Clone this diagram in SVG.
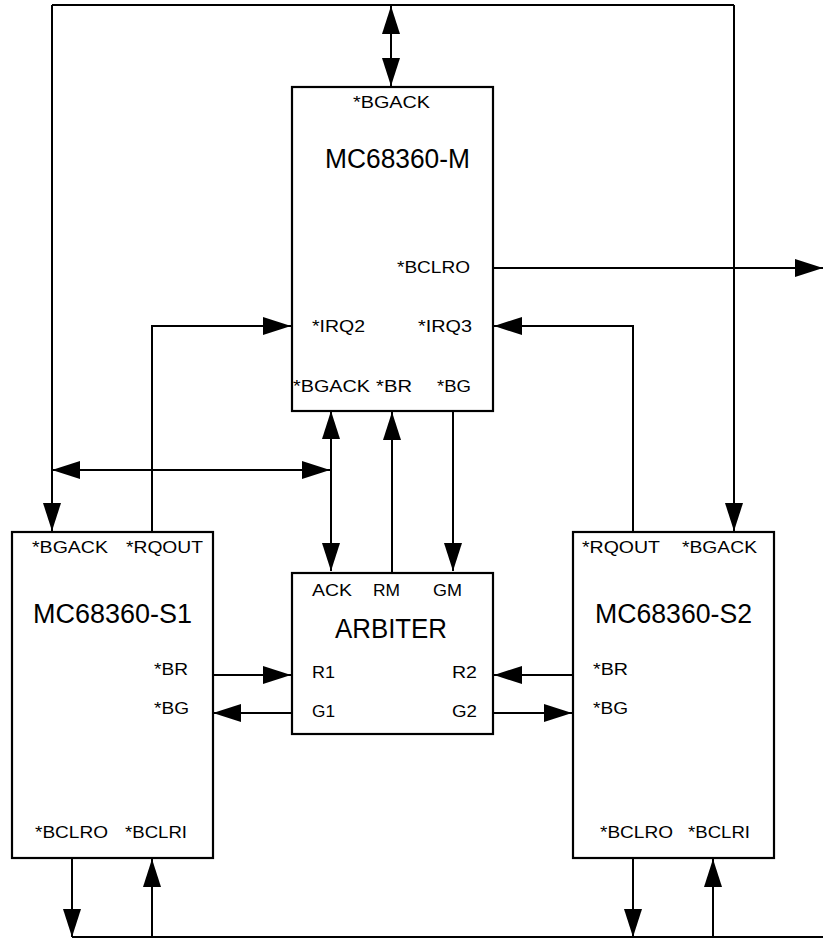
<svg xmlns="http://www.w3.org/2000/svg" width="823" height="939" viewBox="0 0 823 939">
<style>
.box{fill:#fff;stroke:#000;stroke-width:2.2}
.ln{fill:none;stroke:#000;stroke-width:2}
.a{marker-end:url(#arr)}
.d{marker-start:url(#arr);marker-end:url(#arr)}
text{font-family:"Liberation Sans",Arial,sans-serif;fill:#000}
.lb{font-size:17px}
.tt{font-size:27px}
</style>
<defs>
<marker id="arr" markerUnits="userSpaceOnUse" markerWidth="28" markerHeight="18" refX="28" refY="9" orient="auto-start-reverse" viewBox="0 0 28 18">
<path d="M0,0 L28,9 L0,18 Z" fill="#000"/>
</marker>
</defs>
<rect width="823" height="939" fill="#fff"/>
<g id="connectors">
<polyline class="ln" points="52,5 734,5"/>
<line class="ln a" x1="52" y1="5" x2="52" y2="531"/>
<line class="ln a" x1="734" y1="5" x2="734" y2="531"/>
<line class="ln d" x1="391" y1="6" x2="391" y2="86"/>
<line class="ln a" x1="493" y1="268" x2="823" y2="268"/>
<polyline class="ln a" points="152,532 152,326 291,326"/>
<polyline class="ln a" points="633,532 633,326 494,326"/>
<line class="ln d" x1="52" y1="470" x2="330" y2="470"/>
<line class="ln d" x1="331" y1="411" x2="331" y2="571"/>
<line class="ln a" x1="392" y1="573" x2="392" y2="412"/>
<line class="ln a" x1="453" y1="411" x2="453" y2="571"/>
<line class="ln a" x1="212" y1="675" x2="291" y2="675"/>
<line class="ln a" x1="292" y1="713" x2="213" y2="713"/>
<line class="ln a" x1="573" y1="675" x2="494" y2="675"/>
<line class="ln a" x1="493" y1="713" x2="572" y2="713"/>
<line class="ln a" x1="72" y1="858" x2="72" y2="937"/>
<line class="ln a" x1="152" y1="937" x2="152" y2="859"/>
<line class="ln a" x1="633" y1="858" x2="633" y2="937"/>
<line class="ln a" x1="713" y1="937" x2="713" y2="859"/>
<line class="ln" x1="72" y1="937" x2="823" y2="937"/>
</g>
<g id="master">
<rect class="box" x="292" y="87" width="201" height="324"/>
<text class="lb" x="353" y="108" textLength="77" lengthAdjust="spacingAndGlyphs">*BGACK</text>
<text class="tt" x="325" y="168" textLength="145" lengthAdjust="spacingAndGlyphs">MC68360-M</text>
<text class="lb" x="397" y="273" textLength="73" lengthAdjust="spacingAndGlyphs">*BCLRO</text>
<text class="lb" x="312" y="332" textLength="53" lengthAdjust="spacingAndGlyphs">*IRQ2</text>
<text class="lb" x="418" y="332" textLength="54" lengthAdjust="spacingAndGlyphs">*IRQ3</text>
<text class="lb" x="293" y="392" textLength="77" lengthAdjust="spacingAndGlyphs">*BGACK</text>
<text class="lb" x="376" y="392" textLength="36" lengthAdjust="spacingAndGlyphs">*BR</text>
<text class="lb" x="437" y="392" textLength="34" lengthAdjust="spacingAndGlyphs">*BG</text>
</g>
<g id="slave1">
<rect class="box" x="12" y="532" width="201" height="326"/>
<text class="lb" x="32" y="553" textLength="76" lengthAdjust="spacingAndGlyphs">*BGACK</text>
<text class="lb" x="126" y="553" textLength="77" lengthAdjust="spacingAndGlyphs">*RQOUT</text>
<text class="tt" x="33" y="623" textLength="159" lengthAdjust="spacingAndGlyphs">MC68360-S1</text>
<text class="lb" x="154" y="675" textLength="34" lengthAdjust="spacingAndGlyphs">*BR</text>
<text class="lb" x="154" y="714" textLength="35" lengthAdjust="spacingAndGlyphs">*BG</text>
<text class="lb" x="35" y="838" textLength="73" lengthAdjust="spacingAndGlyphs">*BCLRO</text>
<text class="lb" x="125" y="838" textLength="62" lengthAdjust="spacingAndGlyphs">*BCLRI</text>
</g>
<g id="arbiter">
<rect class="box" x="292" y="573" width="201" height="161"/>
<text class="lb" x="312" y="596" textLength="40" lengthAdjust="spacingAndGlyphs">ACK</text>
<text class="lb" x="373" y="596" textLength="27" lengthAdjust="spacingAndGlyphs">RM</text>
<text class="lb" x="433" y="596" textLength="29" lengthAdjust="spacingAndGlyphs">GM</text>
<text class="tt" x="335" y="638" textLength="112" lengthAdjust="spacingAndGlyphs">ARBITER</text>
<text class="lb" x="312" y="678" textLength="23" lengthAdjust="spacingAndGlyphs">R1</text>
<text class="lb" x="312" y="717" textLength="23" lengthAdjust="spacingAndGlyphs">G1</text>
<text class="lb" x="452" y="678" textLength="25" lengthAdjust="spacingAndGlyphs">R2</text>
<text class="lb" x="452" y="717" textLength="25" lengthAdjust="spacingAndGlyphs">G2</text>
</g>
<g id="slave2">
<rect class="box" x="573" y="532" width="201" height="326"/>
<text class="lb" x="582" y="553" textLength="78" lengthAdjust="spacingAndGlyphs">*RQOUT</text>
<text class="lb" x="682" y="553" textLength="75" lengthAdjust="spacingAndGlyphs">*BGACK</text>
<text class="tt" x="595" y="623" textLength="157" lengthAdjust="spacingAndGlyphs">MC68360-S2</text>
<text class="lb" x="593" y="675" textLength="35" lengthAdjust="spacingAndGlyphs">*BR</text>
<text class="lb" x="593" y="714" textLength="35" lengthAdjust="spacingAndGlyphs">*BG</text>
<text class="lb" x="600" y="838" textLength="73" lengthAdjust="spacingAndGlyphs">*BCLRO</text>
<text class="lb" x="688" y="838" textLength="62" lengthAdjust="spacingAndGlyphs">*BCLRI</text>
</g>
</svg>
